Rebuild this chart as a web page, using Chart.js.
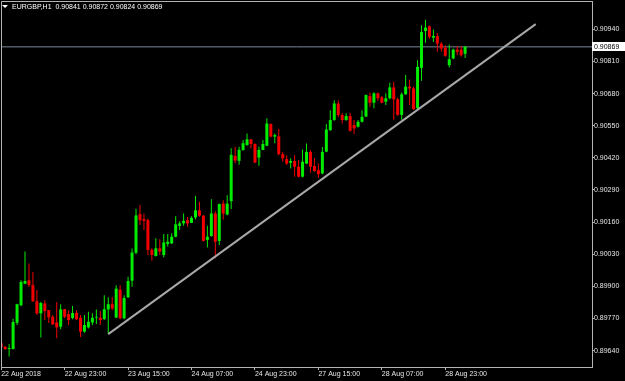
<!DOCTYPE html>
<html><head><meta charset="utf-8">
<script src="https://cdn.jsdelivr.net/npm/chart.js@4.4.1/dist/chart.umd.min.js"></script>
<style>
html,body{margin:0;padding:0;background:#000;}
#wrap{position:relative;width:625px;height:381px;background:#000;}
canvas{display:block;}
#tri{position:absolute;left:2px;top:5px;width:0;height:0;border-left:3px solid transparent;border-right:3px solid transparent;border-top:3px solid #fff;}
#title{position:absolute;left:12px;top:3px;color:#fff;font:7px 'Liberation Sans',Arial,sans-serif;line-height:7px;white-space:pre;}
</style></head><body>
<div id="wrap"><canvas id="c" width="625" height="381"></canvas><div id="tri"></div><div id="title">EURGBP,H1  0.90841 0.90872 0.90824 0.90869</div></div>
<script>
// H1 candles, 22 Aug 2018 07:00 (index 0) to 29 Aug 2018 04:00 (index 117)
const open = [
0.89670,0.89656,0.89647,0.89647,0.89753,0.89824,0.89911,0.89925,0.89905,0.89840,
0.89791,0.89831,0.89804,0.89777,0.89754,0.89737,0.89808,0.89788,0.89772,0.89793,
0.89773,0.89717,0.89734,0.89754,0.89774,0.89773,0.89768,0.89807,0.89828,0.89774,
0.89887,0.89771,0.89856,0.89923,0.90036,0.90192,0.90172,0.90168,0.90048,0.90023,
0.90054,0.90027,0.90072,0.90074,0.90101,0.90145,0.90155,0.90168,0.90157,0.90179,
0.90208,0.90186,0.90088,0.90104,0.90195,0.90084,0.90235,0.90191,0.90245,0.90428,
0.90408,0.90452,0.90472,0.90495,0.90476,0.90421,0.90452,0.90469,0.90557,0.90506,
0.90507,0.90435,0.90415,0.90400,0.90407,0.90384,0.90344,0.90397,0.90444,0.90387,
0.90370,0.90357,0.90445,0.90532,0.90573,0.90640,0.90593,0.90573,0.90589,0.90553,
0.90546,0.90566,0.90587,0.90670,0.90643,0.90681,0.90665,0.90647,0.90661,0.90705,
0.90657,0.90594,0.90677,0.90708,0.90701,0.90621,0.90784,0.90933,0.90952,0.90906,
0.90912,0.90882,0.90865,0.90795,0.90822,0.90858,0.90858,0.90841];
const high = [
0.89673,0.89659,0.89667,0.89769,0.89830,0.89925,0.90041,0.89993,0.89958,0.89885,
0.89837,0.89844,0.89805,0.89784,0.89837,0.89828,0.89809,0.89804,0.89821,0.89804,
0.89784,0.89784,0.89797,0.89791,0.89807,0.89801,0.89864,0.89856,0.89857,0.89905,
0.89905,0.89864,0.89939,0.90053,0.90214,0.90229,0.90195,0.90175,0.90054,0.90095,
0.90091,0.90112,0.90112,0.90115,0.90184,0.90164,0.90195,0.90181,0.90184,0.90266,
0.90242,0.90189,0.90145,0.90253,0.90204,0.90235,0.90249,0.90269,0.90459,0.90465,
0.90465,0.90492,0.90519,0.90496,0.90479,0.90465,0.90492,0.90580,0.90559,0.90519,
0.90538,0.90444,0.90431,0.90418,0.90431,0.90411,0.90454,0.90478,0.90451,0.90418,
0.90397,0.90464,0.90557,0.90613,0.90653,0.90653,0.90600,0.90600,0.90602,0.90573,
0.90573,0.90613,0.90676,0.90684,0.90685,0.90684,0.90670,0.90681,0.90724,0.90728,
0.90664,0.90684,0.90755,0.90737,0.90708,0.90815,0.90956,0.90979,0.90955,0.90939,
0.90925,0.90889,0.90876,0.90879,0.90862,0.90872,0.90872,0.90872];
const low = [
0.89649,0.89643,0.89616,0.89645,0.89744,0.89820,0.89909,0.89898,0.89837,0.89784,
0.89693,0.89764,0.89752,0.89744,0.89690,0.89727,0.89771,0.89744,0.89767,0.89764,
0.89695,0.89713,0.89730,0.89744,0.89748,0.89744,0.89764,0.89707,0.89804,0.89772,
0.89767,0.89767,0.89853,0.89899,0.90030,0.90148,0.90128,0.90027,0.90004,0.90021,
0.90027,0.90018,0.90061,0.90072,0.90099,0.90128,0.90145,0.90141,0.90156,0.90171,
0.90182,0.90082,0.90057,0.90101,0.90014,0.90068,0.90171,0.90188,0.90213,0.90398,
0.90392,0.90449,0.90469,0.90459,0.90398,0.90388,0.90451,0.90468,0.90503,0.90479,
0.90431,0.90404,0.90391,0.90377,0.90344,0.90341,0.90341,0.90395,0.90360,0.90364,
0.90340,0.90354,0.90443,0.90530,0.90570,0.90584,0.90559,0.90570,0.90526,0.90516,
0.90543,0.90563,0.90585,0.90627,0.90621,0.90651,0.90641,0.90634,0.90657,0.90574,
0.90590,0.90574,0.90675,0.90634,0.90614,0.90618,0.90732,0.90886,0.90902,0.90889,
0.90849,0.90849,0.90829,0.90786,0.90819,0.90835,0.90829,0.90824];
const close = [
0.89654,0.89647,0.89651,0.89756,0.89828,0.89918,0.89922,0.89905,0.89840,0.89791,
0.89833,0.89800,0.89775,0.89746,0.89734,0.89807,0.89777,0.89764,0.89792,0.89767,
0.89717,0.89744,0.89757,0.89773,0.89777,0.89764,0.89808,0.89828,0.89811,0.89891,
0.89771,0.89853,0.89922,0.90037,0.90187,0.90168,0.90165,0.90048,0.90027,0.90054,
0.90041,0.90078,0.90081,0.90101,0.90151,0.90155,0.90165,0.90155,0.90177,0.90208,
0.90186,0.90084,0.90101,0.90195,0.90081,0.90233,0.90195,0.90235,0.90432,0.90409,
0.90452,0.90479,0.90495,0.90476,0.90401,0.90452,0.90476,0.90559,0.90506,0.90512,
0.90435,0.90418,0.90397,0.90407,0.90384,0.90344,0.90404,0.90444,0.90384,0.90367,
0.90354,0.90444,0.90535,0.90573,0.90640,0.90593,0.90573,0.90589,0.90530,0.90539,
0.90566,0.90586,0.90674,0.90643,0.90681,0.90661,0.90643,0.90661,0.90705,0.90657,
0.90594,0.90677,0.90708,0.90701,0.90617,0.90788,0.90929,0.90947,0.90909,0.90913,
0.90882,0.90862,0.90833,0.90819,0.90858,0.90849,0.90835,0.90869];

const xTickIndex = [0,16,32,48,64,80,96,112];
const xTickLabels = ['22 Aug 2018','22 Aug 23:00','23 Aug 15:00','24 Aug 07:00','24 Aug 23:00','27 Aug 15:00','28 Aug 07:00','28 Aug 23:00'];
const yTickValues = [0.89640,0.89770,0.89900,0.90030,0.90160,0.90290,0.90420,0.90550,0.90680,0.90810,0.90940];
const bidPrice = 0.90869;
const trendIndex = [27, 134.8];
const trendPrice = [0.89707, 0.90961];

const GREEN = '#00ec00', RED = '#f20000', FRAME = '#b4b4b4', TXT = '#e6e6e6', BIDCOL = '#778899';
const X_MIN = -0.05, X_MAX = 149, Y_MIN = 0.89574, Y_MAX = 0.910545;
const FONT = {family:"'Liberation Sans', Arial, sans-serif", size:7};
const YFONT = {family:"'Liberation Sans', Arial, sans-serif", size:7, lineHeight:0.1};

const colors = open.map((o,i) => close[i] >= o ? GREEN : RED);
const bodies = open.map((o,i) => ({x:i, y:[o, close[i]]}));
const wicks = high.map((h,i) => ({x:i, y:[low[i], h]}));

const framePlugin = {
  id:'frame',
  afterDraw(chart){
    const {ctx, chartArea:a, scales:{y}} = chart;
    ctx.save();
    ctx.strokeStyle = FRAME; ctx.lineWidth = 1;
    ctx.beginPath();
    ctx.moveTo(a.left+0.5, a.bottom); ctx.lineTo(a.left+0.5, a.top+0.5); ctx.lineTo(a.right+0.5, a.top+0.5);
    ctx.stroke();
    const py = y.getPixelForValue(bidPrice);
    const top = Math.round(py) - 5;
    ctx.fillStyle = '#ffffff';
    ctx.fillRect(a.right, top, chart.width - a.right, 9);
    ctx.fillStyle = '#000000';
    ctx.font = "7px 'Liberation Sans', Arial, sans-serif";
    ctx.textBaseline = 'middle'; ctx.textAlign = 'left';
    ctx.fillText(bidPrice.toFixed(5), a.right + 2, top + 5);
    ctx.restore();
  }
};

new Chart(document.getElementById('c'), {
  type:'bar',
  data:{datasets:[
    {type:'line', data:[{x:trendIndex[0], y:trendPrice[0]},{x:trendIndex[1], y:trendPrice[1]}], borderColor:'#a8a8a8', borderWidth:2, pointRadius:0, tension:0, order:0},
    {type:'bar', data:bodies, backgroundColor:colors, barThickness:3, grouped:false, borderWidth:0, inflateAmount:0, order:1},
    {type:'bar', data:wicks, backgroundColor:colors, barThickness:1, grouped:false, borderWidth:0, inflateAmount:0, order:2},
    {type:'line', data:[{x:X_MIN, y:bidPrice},{x:X_MAX, y:bidPrice}], borderColor:BIDCOL, borderWidth:1, pointRadius:0, tension:0, order:3}
  ]},
  options:{
    responsive:false, animation:false, events:[], devicePixelRatio:1,
    layout:{padding:{left:1, top:1, right:0, bottom:0}},
    plugins:{legend:{display:false}, tooltip:{enabled:false}, title:{display:false}},
    scales:{
      x:{type:'linear', position:'bottom', min:X_MIN, max:X_MAX, offset:false,
        afterBuildTicks: s => { s.ticks = xTickIndex.map(v => ({value:v})); },
        afterFit: s => { s.height = 14; },
        ticks:{callback: v => xTickLabels[xTickIndex.indexOf(v)], align:'start', maxRotation:0, minRotation:0, autoSkip:false, color:TXT, font:FONT, padding:0},
        grid:{display:true, offset:false, drawOnChartArea:false, drawTicks:true, tickLength:3, color:FRAME},
        border:{display:true, color:FRAME}
      },
      y:{type:'linear', position:'right', min:Y_MIN, max:Y_MAX, beginAtZero:false,
        afterBuildTicks: s => { s.ticks = yTickValues.map(v => ({value:v})); },
        afterFit: s => { s.width = 33; s.paddingTop = 0; s.paddingBottom = 0; },
        ticks:{callback: v => v.toFixed(5), color:TXT, font:YFONT, padding:0},
        grid:{display:true, drawOnChartArea:false, drawTicks:true, tickLength:2, color:FRAME},
        border:{display:true, color:FRAME}
      }
    }
  },
  plugins:[framePlugin]
});
</script>
</body></html>
